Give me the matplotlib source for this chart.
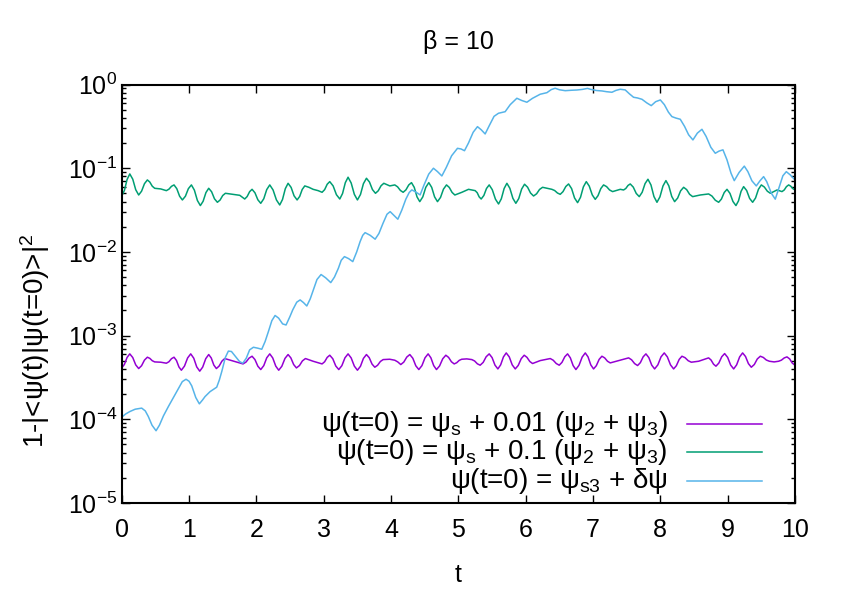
import numpy as np
import matplotlib
matplotlib.use("Agg")
import matplotlib.pyplot as plt
from matplotlib.ticker import LogLocator, FixedLocator, FuncFormatter, NullLocator

# ---- data --------------------------------------------------------------
# psi(t=0) = psi_s + 0.01 (psi_2 + psi_3)   (values in units of 1e-4)
purple_t = [0.0, 0.04, 0.08, 0.12, 0.164, 0.208, 0.252, 0.295, 0.338, 0.381,
            0.417, 0.454, 0.49, 0.58, 0.663, 0.701, 0.739, 0.777, 0.813, 0.85,
            0.886, 0.932, 0.979, 1.025, 1.07, 1.114, 1.159, 1.203, 1.248, 1.292,
            1.33, 1.368, 1.406, 1.447, 1.489, 1.53, 1.63, 1.70, 1.802, 1.847,
            1.891, 1.936, 1.979, 2.022, 2.065, 2.11, 2.154, 2.199, 2.243, 2.288,
            2.332, 2.378, 2.425, 2.471, 2.512, 2.554, 2.595, 2.64, 2.684, 2.729,
            2.843, 2.976, 3.014, 3.052, 3.09, 3.135, 3.179, 3.224, 3.27, 3.316,
            3.362, 3.408, 3.455, 3.501, 3.546, 3.59, 3.635, 3.676, 3.718, 3.759,
            3.80, 3.842, 3.883, 3.98, 4.056, 4.10, 4.145, 4.19, 4.234, 4.279,
            4.324, 4.368, 4.413, 4.459, 4.505, 4.551, 4.592, 4.634, 4.675, 4.721,
            4.768, 4.814, 4.855, 4.897, 4.938, 4.975, 5.013, 5.05, 5.125, 5.20,
            5.241, 5.283, 5.324, 5.369, 5.413, 5.458, 5.501, 5.544, 5.587, 5.628,
            5.67, 5.711, 5.756, 5.80, 5.845, 5.889, 5.934, 5.978, 6.019, 6.061,
            6.102, 6.216, 6.365, 6.409, 6.454, 6.498, 6.539, 6.581, 6.622, 6.663,
            6.705, 6.746, 6.792, 6.839, 6.885, 6.926, 6.967, 7.008, 7.049, 7.091,
            7.132, 7.173, 7.215, 7.256, 7.38, 7.529, 7.573, 7.618, 7.662, 7.703,
            7.745, 7.786, 7.829, 7.872, 7.915, 7.963, 8.01, 8.058, 8.104, 8.151,
            8.197, 8.238, 8.28, 8.321, 8.367, 8.414, 8.46, 8.569, 8.717, 8.753,
            8.79, 8.826, 8.869, 8.912, 8.955, 9.0, 9.044, 9.089, 9.133, 9.178,
            9.222, 9.265, 9.308, 9.351, 9.396, 9.44, 9.485, 9.53, 9.574, 9.619,
            9.69, 9.757, 9.798, 9.84, 9.881, 9.921, 9.96, 10.0]
purple_v = [4.11, 4.53, 5.49, 6.05, 5.47, 4.47, 4.04, 4.37, 5.10, 5.52,
            5.35, 5.01, 4.85, 4.81, 4.68, 4.87, 5.30, 5.52, 5.05, 4.22,
            3.86, 4.32, 5.41, 6.05, 5.37, 4.23, 3.76, 4.21, 5.30, 5.94,
            5.40, 4.45, 4.04, 4.33, 4.96, 5.32, 5.03, 4.85, 4.59, 4.84,
            5.38, 5.67, 5.17, 4.31, 3.93, 4.38, 5.43, 6.05, 5.41, 4.32,
            3.86, 4.30, 5.34, 5.94, 5.42, 4.51, 4.11, 4.39, 4.99, 5.32,
            4.94, 4.59, 4.87, 5.49, 5.83, 5.29, 4.34, 3.93, 4.38, 5.43,
            6.05, 5.41, 4.32, 3.86, 4.30, 5.34, 5.94, 5.45, 4.57, 4.19,
            4.42, 4.91, 5.17, 5.22, 5.08, 4.85, 4.51, 4.83, 5.54, 5.94,
            5.36, 4.36, 3.93, 4.38, 5.43, 6.05, 5.43, 4.38, 3.93, 4.34,
            5.29, 5.83, 5.49, 4.87, 4.59, 4.74, 5.06, 5.22, 5.27, 5.17,
            4.98, 4.60, 4.43, 4.79, 5.59, 6.05, 5.46, 4.44, 4.00, 4.47,
            5.57, 6.21, 5.57, 4.47, 4.00, 4.40, 5.31, 5.83, 5.50, 4.91,
            4.64, 5.03, 5.32, 5.08, 4.64, 4.43, 4.79, 5.59, 6.05, 5.43,
            4.38, 3.93, 4.41, 5.54, 6.21, 5.57, 4.47, 4.00, 4.37, 5.20,
            5.67, 5.42, 4.94, 4.72, 5.03, 5.42, 5.14, 4.63, 4.39, 4.75,
            5.58, 6.05, 5.46, 4.44, 4.00, 4.47, 5.57, 6.21, 5.57, 4.47,
            4.00, 4.37, 5.20, 5.67, 5.45, 5.01, 4.81, 4.94, 5.42, 5.11,
            4.56, 4.31, 4.70, 5.59, 6.10, 5.49, 4.45, 4.00, 4.47, 5.57,
            6.21, 5.63, 4.63, 4.19, 4.52, 5.26, 5.67, 5.48, 5.11, 4.94,
            4.85, 4.94, 5.09, 5.41, 5.57, 5.26, 4.69, 4.43]

# psi(t=0) = psi_s + 0.1 (psi_2 + psi_3)   (values in units of 1e-2)
green_t = [0.0, 0.04, 0.08, 0.12, 0.164, 0.208, 0.252, 0.295, 0.338, 0.381,
           0.417, 0.454, 0.49, 0.58, 0.663, 0.701, 0.739, 0.777, 0.818, 0.86,
           0.901, 0.946, 0.99, 1.035, 1.079, 1.124, 1.168, 1.209, 1.251, 1.292,
           1.335, 1.378, 1.421, 1.461, 1.5, 1.54, 1.654, 1.753, 1.827, 1.863,
           1.9, 1.936, 1.979, 2.022, 2.065, 2.11, 2.154, 2.199, 2.248, 2.298,
           2.347, 2.388, 2.43, 2.471, 2.516, 2.56, 2.605, 2.643, 2.681, 2.719,
           2.78, 2.843, 2.917, 2.976, 3.014, 3.052, 3.09, 3.14, 3.189, 3.239,
           3.28, 3.321, 3.362, 3.408, 3.455, 3.501, 3.546, 3.59, 3.635, 3.68,
           3.724, 3.769, 3.81, 3.852, 3.893, 3.982, 4.056, 4.097, 4.139, 4.18,
           4.221, 4.263, 4.304, 4.345, 4.386, 4.427, 4.472, 4.516, 4.561, 4.604,
           4.647, 4.69, 4.735, 4.779, 4.824, 4.865, 4.907, 4.948, 5.052, 5.151,
           5.25, 5.28, 5.309, 5.339, 5.379, 5.418, 5.458, 5.504, 5.551, 5.597,
           5.638, 5.68, 5.721, 5.765, 5.81, 5.854, 5.897, 5.94, 5.983, 6.028,
           6.072, 6.117, 6.162, 6.206, 6.251, 6.389, 6.43, 6.472, 6.513, 6.554,
           6.596, 6.637, 6.682, 6.726, 6.771, 6.814, 6.857, 6.90, 6.944, 6.989,
           7.033, 7.074, 7.116, 7.157, 7.202, 7.246, 7.291, 7.405, 7.454, 7.487,
           7.52, 7.553, 7.598, 7.642, 7.687, 7.73, 7.773, 7.816, 7.861, 7.905,
           7.95, 7.994, 8.039, 8.083, 8.126, 8.169, 8.212, 8.257, 8.301, 8.346,
           8.391, 8.435, 8.48, 8.593, 8.717, 8.767, 8.816, 8.866, 8.907, 8.949,
           8.99, 9.034, 9.079, 9.123, 9.161, 9.199, 9.237, 9.282, 9.326, 9.371,
           9.414, 9.457, 9.50, 9.545, 9.589, 9.634, 9.733, 9.807, 9.84, 9.873,
           9.906, 9.937, 9.969, 10.0]
green_v = [4.66, 5.43, 7.35, 8.55, 7.40, 5.54, 4.79, 5.32, 6.54, 7.25,
           6.84, 6.10, 5.76, 5.66, 5.40, 5.62, 6.08, 6.32, 5.70, 4.63,
           4.18, 4.63, 5.70, 6.32, 5.48, 4.12, 3.58, 4.03, 5.12, 5.76,
           5.24, 4.31, 3.92, 4.17, 4.72, 5.02, 4.88, 4.75, 4.29, 4.59,
           5.25, 5.60, 5.09, 4.20, 3.81, 4.32, 5.56, 6.32, 5.50, 4.18,
           3.64, 4.23, 5.70, 6.61, 5.90, 4.68, 4.18, 4.60, 5.58, 6.15,
           5.92, 5.60, 5.40, 5.16, 5.55, 6.44, 6.92, 6.15, 4.83, 4.29,
           4.99, 6.72, 7.81, 6.67, 4.88, 4.18, 4.85, 6.54, 7.59, 6.84,
           5.56, 5.02, 5.38, 6.18, 6.61, 6.15, 6.32, 6.00, 5.43, 5.16,
           5.51, 6.31, 6.73, 5.91, 4.55, 3.99, 4.55, 5.91, 6.73, 5.91,
           4.55, 3.99, 4.48, 5.63, 6.32, 5.90, 5.14, 4.79, 5.16, 5.60,
           5.40, 5.10, 4.55, 4.29, 4.73, 5.73, 6.32, 5.54, 4.27, 3.74,
           4.31, 5.73, 6.61, 5.76, 4.37, 3.81, 4.34, 5.64, 6.44, 5.94,
           5.06, 4.66, 4.95, 5.58, 5.92, 5.60, 5.42, 5.06, 4.88, 5.25,
           6.05, 6.49, 5.71, 4.41, 3.88, 4.49, 5.99, 6.92, 6.12, 4.80,
           4.25, 4.70, 5.72, 6.32, 6.03, 5.50, 5.26, 5.60, 5.50, 5.73,
           6.23, 6.49, 5.95, 5.00, 4.58, 5.16, 6.55, 7.39, 6.31, 4.59,
           3.92, 4.55, 6.13, 7.12, 6.16, 4.61, 3.99, 4.40, 5.37, 5.92,
           5.55, 4.88, 4.58, 4.79, 4.93, 4.65, 4.15, 3.92, 4.28, 5.13,
           5.60, 5.01, 4.00, 3.58, 4.08, 5.30, 6.03, 5.42, 4.36, 3.92,
           4.41, 5.60, 6.32, 5.96, 5.32, 5.02, 5.50, 5.26, 5.50, 6.03,
           6.32, 6.10, 5.70, 5.50]

# psi(t=0) = psi_s3 + delta psi
blue_t = [0.0, 0.06, 0.123, 0.20, 0.297, 0.35, 0.395, 0.45, 0.51, 0.56,
          0.62, 0.693, 0.817, 0.90, 0.955, 1.00, 1.04, 1.10, 1.153, 1.20,
          1.238, 1.312, 1.411, 1.45, 1.486, 1.54, 1.584, 1.63, 1.684, 1.75,
          1.798, 1.85, 1.90, 1.956, 2.02, 2.08, 2.13, 2.179, 2.23, 2.278,
          2.33, 2.39, 2.441, 2.50, 2.54, 2.60, 2.65, 2.70, 2.749, 2.80,
          2.847, 2.90, 2.961, 3.03, 3.105, 3.16, 3.218, 3.26, 3.308, 3.37,
          3.432, 3.49, 3.541, 3.58, 3.615, 3.69, 3.764, 3.82, 3.88, 3.94,
          3.987, 4.04, 4.101, 4.16, 4.22, 4.27, 4.309, 4.37, 4.432, 4.49,
          4.56, 4.63, 4.69, 4.755, 4.82, 4.90, 4.987, 5.04, 5.091, 5.15,
          5.22, 5.284, 5.34, 5.398, 5.46, 5.53, 5.596, 5.695, 5.77, 5.869,
          5.94, 6.018, 6.10, 6.215, 6.315, 6.38, 6.438, 6.50, 6.587, 6.68,
          6.761, 6.84, 6.918, 6.96, 7.05, 7.132, 7.20, 7.281, 7.34, 7.404,
          7.478, 7.54, 7.602, 7.66, 7.727, 7.80, 7.865, 7.93, 8.0, 8.06,
          8.12, 8.172, 8.23, 8.296, 8.36, 8.42, 8.484, 8.55, 8.618, 8.68,
          8.75, 8.816, 8.87, 8.93, 8.99, 9.05, 9.098, 9.17, 9.247, 9.30,
          9.36, 9.425, 9.48, 9.534, 9.58, 9.65, 9.707, 9.76, 9.82, 9.871,
          9.93, 9.99]
blue_v = [1.06e-4, 1.16e-4, 1.24e-4, 1.32e-4, 1.36e-4, 1.26e-4, 1.08e-4, 8.5e-5, 7.3e-5, 8.5e-5,
          1.10e-4, 1.42e-4, 2.14e-4, 2.82e-4, 3.01e-4, 2.85e-4, 2.51e-4, 1.82e-4, 1.53e-4, 1.70e-4,
          1.87e-4, 2.14e-4, 2.42e-4, 2.95e-4, 3.72e-4, 5.50e-4, 6.53e-4, 6.46e-4, 5.71e-4, 4.90e-4,
          4.68e-4, 5.37e-4, 6.76e-4, 7.26e-4, 7.08e-4, 6.87e-4, 8.51e-4, 1.12e-3, 1.51e-3, 1.74e-3,
          1.62e-3, 1.38e-3, 1.34e-3, 1.70e-3, 2.03e-3, 2.51e-3, 2.67e-3, 2.48e-3, 2.26e-3, 2.75e-3,
          3.52e-3, 4.68e-3, 5.37e-3, 4.90e-3, 4.30e-3, 5.01e-3, 6.38e-3, 7.94e-3, 8.79e-3, 8.32e-3,
          7.66e-3, 1.00e-2, 1.33e-2, 1.58e-2, 1.70e-2, 1.58e-2, 1.42e-2, 1.66e-2, 2.19e-2, 2.82e-2,
          3.03e-2, 2.75e-2, 2.46e-2, 3.16e-2, 4.27e-2, 5.13e-2, 5.51e-2, 5.19e-2, 4.80e-2, 6.31e-2,
          8.51e-2, 0.100, 0.0912, 0.0809, 0.102, 0.141, 0.173, 0.170, 0.162, 0.200,
          0.269, 0.314, 0.288, 0.257, 0.324, 0.417, 0.454, 0.474, 0.575, 0.686,
          0.646, 0.615, 0.684, 0.766, 0.800, 0.871, 0.904, 0.867, 0.845, 0.855,
          0.861, 0.875, 0.900, 0.879, 0.849, 0.839, 0.822, 0.809, 0.851, 0.879,
          0.863, 0.776, 0.705, 0.692, 0.667, 0.603, 0.560, 0.624, 0.655, 0.575,
          0.468, 0.414, 0.398, 0.385, 0.316, 0.251, 0.218, 0.263, 0.292, 0.240,
          0.178, 0.151, 0.160, 0.166, 0.126, 0.0871, 0.0711, 0.0891, 0.106, 0.0912,
          0.0708, 0.0615, 0.0708, 0.0794, 0.0692, 0.0501, 0.0427, 0.0575, 0.0813, 0.0910,
          0.0832, 0.0738]

labels = [r"ψ(t=0) = ψ$_{s}$ + 0.01 (ψ$_{2}$ + ψ$_{3}$)",
          r"ψ(t=0) = ψ$_{s}$ + 0.1 (ψ$_{2}$ + ψ$_{3}$)",
          r"ψ(t=0) = ψ$_{s3}$ + δψ"]
colors = ["#9400d3", "#009e73", "#56b4e9"]
x_ticks = list(range(0, 11))

# ---- figure -------------------------------------------------------------
plt.rcParams["font.family"] = ["Liberation Sans", "DejaVu Sans"]
plt.rcParams["mathtext.default"] = "regular"
FS = 18       # ticks and title
FS_KEY = 20   # legend and y label (gnuplot's wider glyphs)

fig = plt.figure(figsize=(8.47, 5.93), dpi=100)
ax = fig.add_axes([0.1437, 0.1518, 0.7949, 0.7056])

series = [(purple_t, np.array(purple_v) * 1e-4),
          (green_t, np.array(green_v) * 1e-2),
          (blue_t, np.array(blue_v))]
for (t, v), c in zip(series, colors):
    ax.plot(t, v, color=c, linewidth=1.1, solid_joinstyle="round")

ax.set_yscale("log")
ax.set_xlim(0, 10)
ax.set_ylim(1e-5, 1)

ax.xaxis.set_major_locator(FixedLocator(x_ticks))
ax.xaxis.set_minor_locator(NullLocator())
ax.yaxis.set_major_locator(LogLocator(base=10, numticks=10))
ax.yaxis.set_minor_locator(LogLocator(base=10, subs=np.arange(2, 10), numticks=20))
ax.yaxis.set_major_formatter(
    FuncFormatter(lambda v, _: r"10$^{%d}$" % int(round(np.log10(v)))))

ax.tick_params(which="both", direction="in", top=True, right=True, width=1.0)
ax.tick_params(which="major", length=6, labelsize=FS)
ax.tick_params(which="minor", length=3)
ax.tick_params(axis="x", pad=11)
ax.tick_params(axis="y", pad=3)
for s in ax.spines.values():
    s.set_linewidth(1.5)

# gnuplot-style legend: right-aligned text, line sample on the right
rows_y = [0.188, 0.121, 0.053]
for lab, c, yy in zip(labels, colors, rows_y):
    ax.text(0.811, yy, lab, transform=ax.transAxes, ha="right", va="center",
            fontsize=FS_KEY)
    ax.plot([0.8396, 0.951], [yy, yy], transform=ax.transAxes, color=c,
            linewidth=1.1)

fig.text(0.5412, 0.929, "β = 10", ha="center", va="center", fontsize=FS)
fig.text(0.5412, 0.031, "t", ha="center", va="center", fontsize=FS)
fig.text(0.041, 0.425, r"1-|<ψ(t)|ψ(t=0)>|$^{2}$", rotation=90,
         ha="center", va="center", fontsize=FS_KEY)

fig.savefig("out.png", dpi=100)
